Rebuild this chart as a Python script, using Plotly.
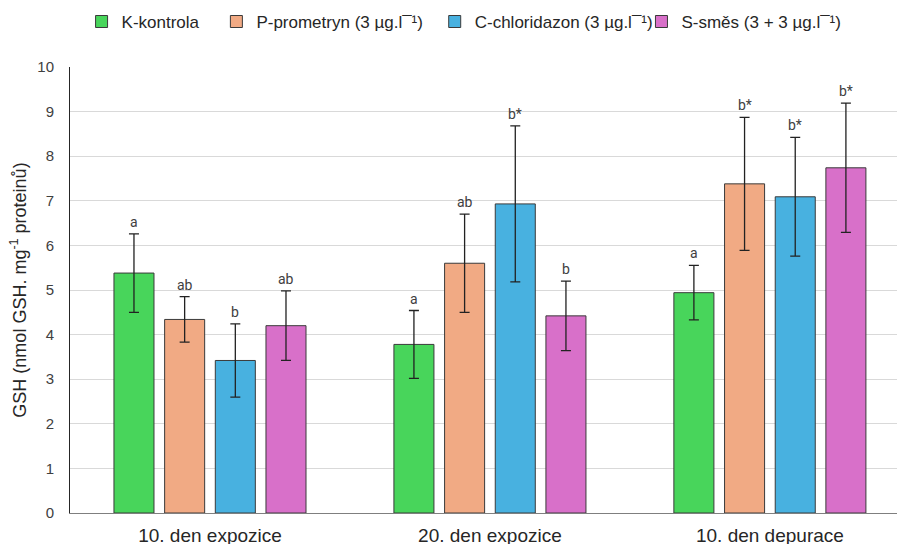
import plotly.graph_objects as go

categories = ["10. den expozice", "20. den expozice", "10. den depurace"]
series_names = ["K-kontrola", "P-prometryn (3 µg.l¯¹)", "C-chloridazon (3 µg.l¯¹)", "S-směs (3 + 3 µg.l¯¹)"]
colors = ["#48d55b", "#f1aa84", "#48b1e0", "#d870c9"]

k_vals = [5.38, 3.78, 4.94]
p_vals = [4.34, 5.60, 7.38]
c_vals = [3.42, 6.93, 7.09]
s_vals = [4.20, 4.42, 7.74]

k_err = [0.88, 0.76, 0.61]
p_err = [0.51, 1.10, 1.49]
c_err = [0.82, 1.75, 1.33]
s_err = [0.78, 0.78, 1.45]

k_lab = ["a", "a", "a"]
p_lab = ["ab", "ab", "b*"]
c_lab = ["b", "b*", "b*"]
s_lab = ["ab", "b", "b*"]

values = [k_vals, p_vals, c_vals, s_vals]
errors = [k_err, p_err, c_err, s_err]
labels = [k_lab, p_lab, c_lab, s_lab]

legend_x = [0.014, 0.177, 0.441, 0.691]

bargap = 0.276
bargroupgap = 0.21

fig = go.Figure()
legend_ids = ["legend", "legend2", "legend3", "legend4"]
for name, col, v, e, lid in zip(series_names, colors, values, errors, legend_ids):
    fig.add_trace(go.Bar(
        x=categories, y=v, name=name, legend=lid,
        marker=dict(color=col, line=dict(color="#3a3a3a", width=1)),
        error_y=dict(type="data", array=e, visible=True, color="#222222", thickness=1.3, width=5),
    ))

n = len(series_names)
slot = (1 - bargap) / n
for i in range(n):
    for j in range(len(categories)):
        fig.add_annotation(
            x=j + (i - (n - 1) / 2) * slot,
            y=values[i][j] + errors[i][j],
            text=labels[i][j], showarrow=False, yanchor="bottom", yshift=2,
            font=dict(family="Roboto, Liberation Sans, sans-serif", size=14, color="#404040"),
        )

legend_font = dict(family="Liberation Sans, Arial", size=17, color="#262626")
legend_layouts = {}
for lid, lx in zip(legend_ids, legend_x):
    legend_layouts[lid] = dict(orientation="h", x=lx, xanchor="left", y=1.101, yanchor="middle",
                               font=legend_font, itemclick=False, bgcolor="rgba(0,0,0,0)")

fig.update_layout(
    width=897, height=544,
    margin=dict(l=70, r=0, t=67, b=31),
    paper_bgcolor="white", plot_bgcolor="white",
    barmode="group", bargap=bargap, bargroupgap=bargroupgap,
    showlegend=True,
    **legend_layouts,
    xaxis=dict(range=[-0.5, 2.454], showgrid=False, showline=True, linecolor="#7f7f7f", linewidth=1,
               ticks="", ticklabelstandoff=5, automargin=False,
               tickfont=dict(family="Liberation Sans, Arial", size=19, color="#262626")),
    yaxis=dict(range=[0, 10], dtick=1, showgrid=True, gridcolor="#d9d9d9", gridwidth=1,
               showline=True, linecolor="#262626", linewidth=1, zeroline=False, ticks="",
               ticklabelstandoff=12, automargin=False,
               tickfont=dict(family="Liberation Sans, Arial", size=15, color="#404040"),
               title=dict(text="GSH (nmol GSH. mg<sup>-1</sup> proteinů)", standoff=6,
                          font=dict(family="Liberation Sans, Arial", size=18, color="#262626"))),
)

fig.write_html("out.html")
